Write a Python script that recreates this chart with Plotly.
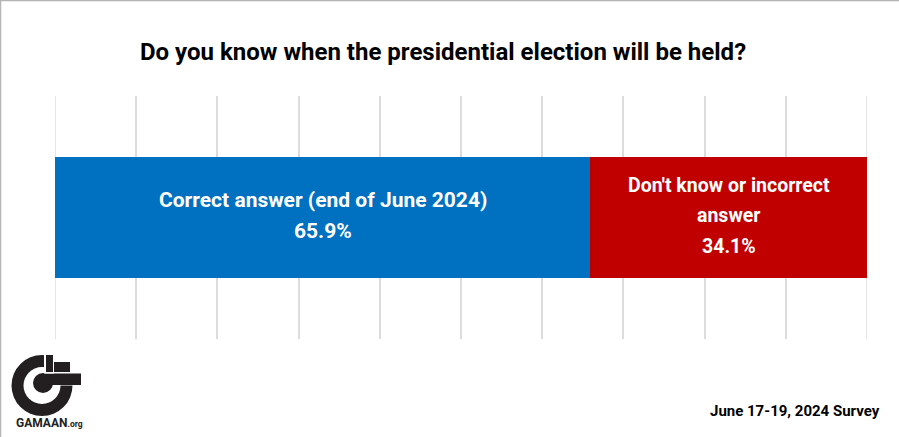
import plotly.graph_objects as go

# ---- data ----
title_text = "Do you know when the presidential election will be held?"
categories = ["Correct answer (end of June 2024)", "Don't know or incorrect answer"]
label_lines = [["Correct answer (end of June 2024)"], ["Don't know or incorrect", "answer"]]
values = [65.9, 34.1]
colors = ["#0070c0", "#c00000"]
label_sizes = [21, 19.5]
footer_text = "June 17-19, 2024 Survey"
logo_text = "GAMAAN"
x_range = [0, 100]

W, H = 899, 437
ML, MR, MT, MB = 55, 32, 96, 98
PW, PH = W - ML - MR, H - MT - MB


def px(x):
    return (x - ML) / PW


def py(y):
    return (H - MB - y) / PH


fig = go.Figure()
base = 0
for cat, v, c in zip(categories, values, colors):
    fig.add_trace(go.Bar(
        y=["q"], x=[v], base=[base], orientation="h", name=cat,
        marker=dict(color=c, line=dict(width=0)), width=0.5,
        hoverinfo="x+name", showlegend=False,
    ))
    base += v

annotations = []
base = 0
for lines, v, fs in zip(label_lines, values, label_sizes):
    cx = base + v / 2
    all_lines = lines + [f"{v:.1f}%"]
    n = len(all_lines)
    for i, t in enumerate(all_lines):
        off = (i - (n - 1) / 2) * 30.5
        annotations.append(dict(
            x=cx, y="q", xref="x", yref="y", text=f"<b>{t}</b>",
            showarrow=False, font=dict(family="Roboto, Arial, sans-serif", size=fs, color="white"),
            xanchor="center", yanchor="middle",
            yshift=-off + 2,
        ))
    base += v

# title
annotations.append(dict(
    x=px(442.5), y=py(52), xref="paper", yref="paper", text=f"<b>{title_text}</b>",
    showarrow=False, font=dict(family="Roboto, Arial, sans-serif", size=24, color="black"),
    xanchor="center", yanchor="middle",
))

# footer
annotations.append(dict(
    x=px(882), y=py(411), xref="paper", yref="paper", text=f"<b>{footer_text}</b>",
    showarrow=False, font=dict(family="Roboto, Arial, sans-serif", size=15, color="black"),
    xanchor="right", yanchor="middle",
))

# logo text
annotations.append(dict(
    x=px(49), y=py(423), xref="paper", yref="paper",
    text=f"<b>{logo_text}</b><span style='font-size:8.5px'><b>.org</b></span>",
    showarrow=False, font=dict(family="Roboto, Arial, sans-serif", size=12, color="#222"),
    xanchor="center", yanchor="middle",
))

shapes = []
# grid lines at the range ends (plotly culls edge gridlines)
for xv in x_range:
    shapes.append(dict(type="line", xref="x", yref="paper", x0=xv, x1=xv, y0=0, y1=1,
                       line=dict(color="#dcdcdc", width=1.5), layer="below"))
# border (left and top)
shapes.append(dict(type="line", xref="paper", yref="paper", x0=px(0.5), x1=px(0.5), y0=py(0), y1=py(437),
                   line=dict(color="#b5b5b5", width=1.5), layer="above"))
shapes.append(dict(type="line", xref="paper", yref="paper", x0=px(0), x1=px(899), y0=py(0.5), y1=py(0.5),
                   line=dict(color="#b5b5b5", width=1.5), layer="above"))


def circ(cx, cy, r, color):
    return dict(type="circle", xref="paper", yref="paper", x0=px(cx - r), x1=px(cx + r),
                y0=py(cy + r), y1=py(cy - r), fillcolor=color, line=dict(width=0), layer="above")


def rect(x0, y0, x1, y1, color):
    return dict(type="rect", xref="paper", yref="paper", x0=px(x0), x1=px(x1),
                y0=py(y1), y1=py(y0), fillcolor=color, line=dict(width=0), layer="above")


lk = "#231f20"
# logo ring
shapes.append(circ(42, 385.5, 30.5, lk))
shapes.append(circ(42, 385.5, 18.5, "white"))
shapes.append(rect(44, 353, 76, 385.5, "white"))
# blocks
shapes.append(rect(46, 355, 53, 372, lk))
shapes.append(rect(54, 362, 70, 372, lk))
shapes.append(rect(46, 373.5, 81, 385, lk))
# inner dot
shapes.append(circ(43, 383, 10, lk))
shapes.append(rect(44, 372, 54, 373.5, "white"))

fig.update_layout(
    width=W, height=H,
    margin=dict(l=ML, r=MR, t=MT, b=MB),
    paper_bgcolor="white", plot_bgcolor="white",
    barmode="overlay", bargap=0,
    xaxis=dict(range=x_range, dtick=10, showgrid=True, gridcolor="#dcdcdc", gridwidth=1.5,
               showticklabels=False, zeroline=False, showline=False, ticks="", fixedrange=True),
    yaxis=dict(range=[-0.5, 0.5], visible=False, showgrid=False, fixedrange=True,
               type="category"),
    annotations=annotations,
    shapes=shapes,
    font=dict(family="Roboto, Arial, sans-serif"),
)

fig.write_html("out.html", config={"displayModeBar": False},
               post_script="document.body.style.margin='0';document.body.style.overflow='hidden';")
